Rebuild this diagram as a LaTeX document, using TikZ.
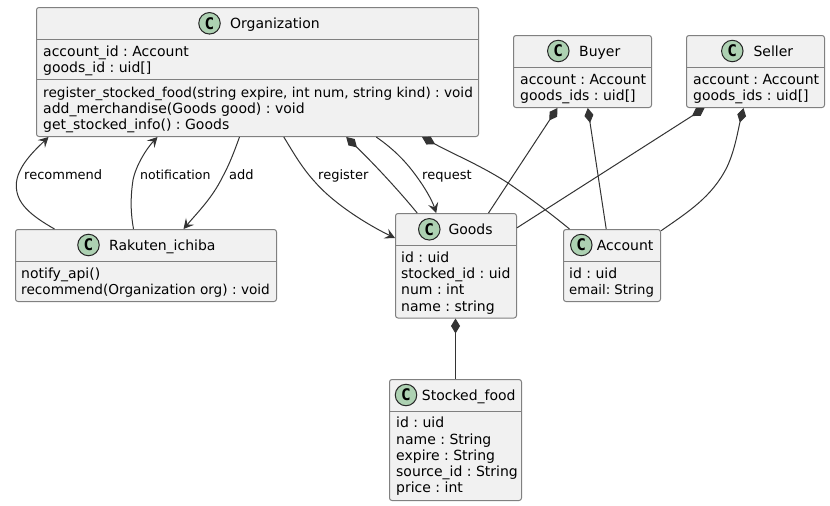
\documentclass[tikz,border=0pt]{standalone}
\usepackage{fontspec}
\setmainfont{DejaVu Sans}
\newfontfamily\iconfont{DejaVu Sans Mono}
\usetikzlibrary{arrows.meta}
\definecolor{boxfill}{HTML}{F1F1F1}
\definecolor{boxline}{HTML}{808080}
\definecolor{conn}{HTML}{333333}
\definecolor{iconfill}{HTML}{ADD1B2}
\newcommand{\firstline}{\rule{0pt}{12pt}}
\newcommand{\sizedline}[1]{\fontsize{#1}{16.2}\selectfont}
\frenchspacing
\tikzset{
  umlbox/.style={draw=boxline,fill=boxfill,line width=1pt,rounded corners=2.5pt,inner sep=0pt},
  divider/.style={draw=boxline,line width=1pt},
  titletext/.style={anchor=base west,inner sep=0pt,font=\fontsize{14}{16}\selectfont},
  member/.style={anchor=north west,inner sep=0pt,align=left,font=\fontsize{14}{16.2}\selectfont},
  edgelabel/.style={anchor=base west,inner sep=0pt,font=\fontsize{13}{15}\selectfont},
  cicon/.style={circle,draw=black!85,fill=iconfill,line width=1pt,minimum size=21.5pt,inner sep=0pt,font=\iconfont\bfseries\fontsize{16}{16}\selectfont},
  link/.style={draw=conn,line width=1pt},
  arrowto/.style={link,-{Stealth[length=10pt,width=10.5pt,inset=4pt]}},
  comp/.style={link,{Diamond[length=15pt,width=9pt]}-}
}
\begin{document}
\begin{tikzpicture}[x=1pt,y=-1pt]
\path[use as bounding box,fill=white] (0,0) rectangle (830,506);

% boxes
\node[umlbox,minimum width=442pt,minimum height=129pt] (org) at (257.5,72) {};
\node[umlbox,minimum width=261pt,minimum height=72pt] (rak) at (146,265.5) {};
\node[umlbox,minimum width=121pt,minimum height=104.5pt] (goods) at (456,265.75) {};
\node[umlbox,minimum width=97pt,minimum height=72pt] (acct) at (612,265.5) {};
\node[umlbox,minimum width=138pt,minimum height=72pt] (buyer) at (582.5,71.5) {};
\node[umlbox,minimum width=138pt,minimum height=72pt] (seller) at (755.5,71.5) {};
\node[umlbox,minimum width=132pt,minimum height=121pt] (food) at (455.5,440) {};

% dividers
\draw[divider] ([yshift=-32pt]org.north west) -- ([yshift=-32pt]org.north east);
\draw[divider] ([yshift=-72pt]org.north west) -- ([yshift=-72pt]org.north east);
\draw[divider] ([yshift=-32pt]rak.north west) -- ([yshift=-32pt]rak.north east);
\draw[divider] ([yshift=-32pt]goods.north west) -- ([yshift=-32pt]goods.north east);
\draw[divider] ([yshift=-32pt]acct.north west) -- ([yshift=-32pt]acct.north east);
\draw[divider] ([yshift=-32pt]buyer.north west) -- ([yshift=-32pt]buyer.north east);
\draw[divider] ([yshift=-32pt]seller.north west) -- ([yshift=-32pt]seller.north east);
\draw[divider] ([yshift=-32pt]food.north west) -- ([yshift=-32pt]food.north east);

% icons
\node[cicon] (orgc) at (209.5,23.3) {C};
\node[cicon] (rakc) at (88.5,245) {C};
\node[cicon] (goodsc) at (429.3,229.3) {C};
\node[cicon] (acctc) at (581.3,245) {C};
\node[cicon] (buyerc) at (558.3,51) {C};
\node[cicon] (sellerc) at (732.3,51) {C};
\node[cicon] (foodc) at (406,395) {C};

% titles
\node[titletext] (orgt) at (230,28) {Organization};
\node[titletext] (rakt) at (109,250.3) {Rakuten\_ichiba};
\node[titletext] (goodst) at (448.3,234.3) {Goods};
\node[titletext] (acctt) at (596.7,250.3) {Account};
\node[titletext] (buyert) at (579,56.3) {Buyer};
\node[titletext] (sellert) at (753.3,56.3) {Seller};
\node[titletext] (foodt) at (421.7,400.3) {Stocked\_food};

% members
\node[member] (orgm1) at (43,44) {\firstline account\_id : Account\\goods\_id : uid[]};
\node[member] (orgm2) at (43,85) {\firstline {\sizedline{13.62}register\_stocked\_food(string expire, int num, string kind) : void}\\add\_merchandise(Goods good) : void\\get\_stocked\_info() : Goods};
\node[member] (rakm) at (21,266) {\firstline notify\_api()\\{\sizedline{13.65}recommend(Organization org) : void}};
\node[member] (goodsm) at (401,250.3) {\firstline id : uid\\stocked\_id : uid\\num : int\\name : string};
\node[member] (acctm) at (569,266) {\firstline id : uid\\{\sizedline{13.25}email: String}};
\node[member] (buyerm) at (520,72) {\firstline account : Account\\goods\_ids : uid[]};
\node[member] (sellerm) at (693,72) {\firstline account : Account\\goods\_ids : uid[]};
\node[member] (foodm) at (396,415.7) {\firstline id : uid\\name : String\\expire : String\\source\_id : String\\price : int};

% connectors
\draw[arrowto] ([xshift=39.5pt]rak.north west) .. controls (30,215) and (16,203) .. (16.3,185) .. controls (16.5,167) and (35,150) .. ([xshift=12.5pt]org.south west);
\draw[arrowto] ([xshift=118.5pt]rak.north west) .. controls (131,215) and (130,200) .. (133,180) .. controls (136,165) and (147,148) .. ([xshift=121.5pt]org.south west);
\draw[arrowto] ([xshift=203.5pt]org.south west) .. controls (233,155) and (229,165) .. (222,178) .. controls (212,198) and (198,212) .. ([xshift=168.5pt]rak.north west);
\draw[arrowto] ([xshift=247.8pt]org.south west) .. controls (293,152) and (302,168) .. (315,182) .. controls (335,205) and (370,226) .. ([yshift=-25pt]goods.north west);
\draw[comp] ([xshift=310.2pt]org.south west) .. controls (370,160) and (395,186) .. ([xshift=22.2pt]goods.north west);
\draw[arrowto] ([xshift=340.2pt]org.south west) .. controls (395,150) and (407,163) .. (417,177) .. controls (425,188) and (432,200) .. ([xshift=41.2pt]goods.north west);
\draw[comp] ([xshift=386pt]org.south west) .. controls (455,155) and (480,165) .. (508,183) .. controls (530,198) and (550,213) .. ([xshift=6.5pt]acct.north west);
\draw[comp] ([xshift=44.5pt]buyer.south west) -- ([xshift=93.5pt]goods.north west);
\draw[comp] ([xshift=74.8pt]buyer.south west) -- ([xshift=43.2pt]acct.north west);
\draw[comp] ([xshift=18.5pt]seller.south west) -- ([yshift=-14.8pt]goods.north east);
\draw[comp] ([xshift=57.5pt]seller.south west) .. controls (738,130) and (735,150) .. (727,167) .. controls (712,197) and (688,212) .. ([yshift=-1.8pt]acct.north east);
\draw[comp] (food.north |- goods.south) -- (food.north);

% connector labels
\node[edgelabel] (l1) at (24,179) {recommend};
\node[edgelabel,font=\fontsize{12.5}{15}\selectfont] (l2) at (140,179) {notification};
\node[edgelabel] (l3) at (229,179) {add};
\node[edgelabel] (l4) at (318,179) {register};
\node[edgelabel] (l5) at (422,179) {request};
\end{tikzpicture}
\end{document}
